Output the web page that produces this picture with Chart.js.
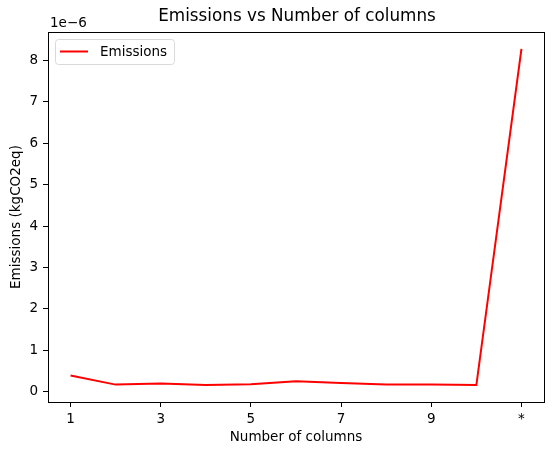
<!DOCTYPE html>
<html>
<head>
<meta charset="utf-8">
<script src="https://cdn.jsdelivr.net/npm/chart.js@4/dist/chart.umd.min.js"></script>
<style>
  html, body { margin: 0; padding: 0; background: #fff; }
  #c { display: block; }
</style>
</head>
<body>
<canvas id="c" width="554" height="455"></canvas>
<script>
// Chart data (emissions are in units of 1e-6 kgCO2eq, as on the axis)
const columns = ['1', '2', '3', '4', '5', '6', '7', '8', '9', '10', '*'];
const emissions = [0.39, 0.17, 0.20, 0.16, 0.18, 0.25, 0.21, 0.17, 0.17, 0.16, 8.28];
const xTickPositions = [1, 3, 5, 7, 9, 11];
const yTicks = [0, 1, 2, 3, 4, 5, 6, 7, 8];

const FONT = 'DejaVu Sans, sans-serif';

// draws the frame, title, axis titles, offset text and legend like matplotlib does
const mplDecor = {
    id: 'mplDecor',
    afterDraw(chart) {
        const ctx = chart.ctx;
        const a = chart.chartArea;
        ctx.save();
        ctx.strokeStyle = '#000';
        ctx.lineWidth = 1;
        ctx.strokeRect(Math.round(a.left) + 0.5, Math.round(a.top) + 0.5,
            Math.round(a.right - a.left), Math.round(a.bottom - a.top));

        ctx.fillStyle = '#000';
        ctx.textAlign = 'center';
        ctx.textBaseline = 'middle';
        ctx.font = '16.8px ' + FONT;
        ctx.fillText('Emissions vs Number of columns', (a.left + a.right) / 2 + 1, 17);

        ctx.font = '13.5px ' + FONT;
        ctx.fillText('Number of columns', (a.left + a.right) / 2, 437);

        ctx.save();
        ctx.translate(16, (a.top + a.bottom) / 2);
        ctx.rotate(-Math.PI / 2);
        ctx.fillText('Emissions (kgCO2eq)', 0, 0);
        ctx.restore();

        ctx.textAlign = 'left';
        ctx.fillText('1e\u22126', 50, 23);

        // legend
        const lx = 55, ly = a.top + 7, lw = 119, lh = 25;
        ctx.beginPath();
        ctx.roundRect(lx + 0.5, ly + 0.5, lw, lh, 3);
        ctx.fillStyle = 'rgba(255,255,255,0.8)';
        ctx.fill();
        ctx.strokeStyle = '#d9d9d9';
        ctx.stroke();
        ctx.beginPath();
        ctx.moveTo(lx + 5, ly + 12.5);
        ctx.lineTo(lx + 33, ly + 12.5);
        ctx.strokeStyle = '#ff0000';
        ctx.lineWidth = 2;
        ctx.stroke();
        ctx.fillStyle = '#000';
        ctx.fillText('Emissions', lx + 45, ly + 13);
        ctx.restore();
    }
};

new Chart(document.getElementById('c').getContext('2d'), {
    type: 'line',
    data: {
        datasets: [{
            label: 'Emissions',
            data: emissions.map((v, i) => ({ x: i + 1, y: v })),
            borderColor: '#ff0000',
            borderWidth: 2,
            pointRadius: 0,
            tension: 0,
            fill: false
        }]
    },
    options: {
        responsive: false,
        animation: false,
        devicePixelRatio: 1,
        layout: { padding: { top: 32, right: 10, left: 0, bottom: 0 } },
        plugins: { legend: { display: false }, title: { display: false }, tooltip: { enabled: false } },
        scales: {
            x: {
                type: 'linear',
                min: 0.5,
                max: columns.length + 0.5,
                afterBuildTicks: s => { s.ticks = xTickPositions.map(v => ({ value: v })); },
                afterFit: s => { s.height = 53; },
                grid: { display: true, drawOnChartArea: false, drawTicks: true, tickLength: 5, color: '#000' },
                border: { display: false },
                ticks: {
                    color: '#000', font: { family: FONT, size: 13.5 }, padding: 4, maxRotation: 0,
                    callback: v => columns[v - 1]
                }
            },
            y: {
                min: -0.25,
                max: 8.69,
                afterBuildTicks: s => { s.ticks = yTicks.map(v => ({ value: v })); },
                afterFit: s => { s.width = 48; },
                grid: { display: true, drawOnChartArea: false, drawTicks: true, tickLength: 5, color: '#000' },
                border: { display: false },
                ticks: { color: '#000', font: { family: FONT, size: 13.5 }, padding: 5 }
            }
        }
    },
    plugins: [mplDecor]
});
</script>
</body>
</html>
